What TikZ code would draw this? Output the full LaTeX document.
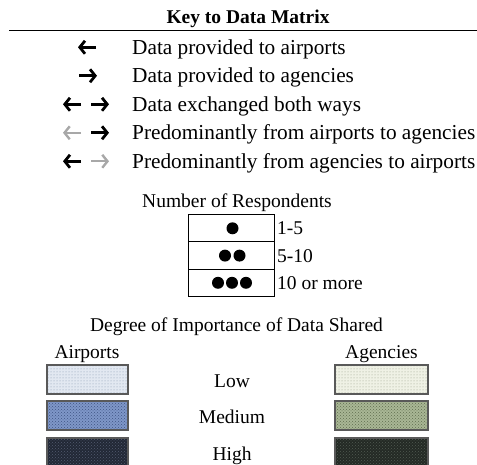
\documentclass[tikz,border=0pt]{standalone}
\usepackage{fontspec}
\setmainfont{Liberation Serif}
\usetikzlibrary{arrows.meta,patterns}
\definecolor{agrey}{HTML}{A8A8A8}
\definecolor{alow}{HTML}{E2E8F1}
\definecolor{alowd}{HTML}{8797B0}
\definecolor{amed}{HTML}{7F97C8}
\definecolor{amedd}{HTML}{3F5484}
\definecolor{ahigh}{HTML}{222836}
\definecolor{ahighd}{HTML}{525C70}
\definecolor{glow}{HTML}{EFF1E5}
\definecolor{glowd}{HTML}{979D87}
\definecolor{gmed}{HTML}{A9B795}
\definecolor{gmedd}{HTML}{5F6D4F}
\definecolor{ghigh}{HTML}{242A25}
\definecolor{ghighd}{HTML}{515A52}
\tikzset{
  big/.style={font=\fontsize{21.3}{24}\selectfont, inner sep=0pt, anchor=base west},
  med/.style={font=\fontsize{19.5}{22}\selectfont, inner sep=0pt, anchor=base},
  medw/.style={font=\fontsize{19.5}{22}\selectfont, inner sep=0pt, anchor=base west},
  arr/.style={line width=2.8pt, -{Straight Barb[length=5.2pt,width=13pt]}},
  garr/.style={arr, draw=agrey, line width=2.4pt},
  dot/.style={circle, fill=black, minimum size=12pt, inner sep=0pt},
  swatch/.style={draw=black!65, line width=1.2pt},
}
\begin{document}
\begin{tikzpicture}[x=1pt,y=-1pt]
\useasboundingbox (0,0) rectangle (477,465);
% title
\node[font=\fontsize{19.5}{22}\selectfont\bfseries, inner sep=0pt, anchor=base] (title) at (248,24) {Key to Data Matrix};
\coordinate (l1) at (9,30.5);
\coordinate (l2) at (477,30.5);
\draw[line width=1.7pt] (l1) -- (l2);
% key rows
\node[big] (t1) at (132,54.3) {Data provided to airports};
\node[big] (t2) at (132,82.8) {Data provided to agencies};
\node[big] (t3) at (132,111.3) {Data exchanged both ways};
\node[big] (t4) at (132,139.8) {Predominantly from airports to agencies};
\node[big] (t5) at (132,168.3) {Predominantly from agencies to airports};
% arrows
\coordinate (a1s) at (96,47.3);   \coordinate (a1e) at (78,47.3);
\coordinate (a2s) at (79,75.8);   \coordinate (a2e) at (97,75.8);
\coordinate (a3ls) at (81,104.3); \coordinate (a3le) at (63,104.3);
\coordinate (a3rs) at (91,104.3); \coordinate (a3re) at (109,104.3);
\coordinate (a4ls) at (81,132.8); \coordinate (a4le) at (63,132.8);
\coordinate (a4rs) at (91,132.8); \coordinate (a4re) at (109,132.8);
\coordinate (a5ls) at (81,161.3); \coordinate (a5le) at (63,161.3);
\coordinate (a5rs) at (91,161.3); \coordinate (a5re) at (109,161.3);
\draw[arr] (a1s) -- (a1e);
\draw[arr] (a2s) -- (a2e);
\draw[arr] (a3ls) -- (a3le);
\draw[arr] (a3rs) -- (a3re);
\draw[garr] (a4ls) -- (a4le);
\draw[arr] (a4rs) -- (a4re);
\draw[arr] (a5ls) -- (a5le);
\draw[garr] (a5rs) -- (a5re);
% respondents
\node[med] (resp) at (237,207.5) {Number of Respondents};
\draw[line width=1pt] (188,214.5) rectangle (274,296.5);
\draw[line width=1pt] (188,242) -- (274,242);
\draw[line width=1pt] (188,269.2) -- (274,269.2);
\node[dot] (d1) at (232.5,228.3) {};
\node[dot] (d2a) at (225,255.6) {};
\node[dot] (d2b) at (239.5,255.6) {};
\node[dot] (d3a) at (218,282.8) {};
\node[dot] (d3b) at (232,282.8) {};
\node[dot] (d3c) at (246,282.8) {};
\node[medw] (r1) at (277,235) {1-5};
\node[medw] (r2) at (277,262.3) {5-10};
\node[medw] (r3) at (277,289.5) {10 or more};
% degree of importance
\node[med] (deg) at (236.5,331.5) {Degree of Importance of Data Shared};
\node[med] (air) at (87,358.3) {Airports};
\node[med] (agc) at (381.5,358.3) {Agencies};
\node[med] (low) at (232,387.3) {Low};
\node[med] (mid) at (232,423.3) {Medium};
\node[med] (hig) at (232,460) {High};
% swatches
\fill[alow] (47,365) rectangle (128,394);
\fill[pattern=dots, pattern color=alowd] (47,365) rectangle (128,394);
\draw[swatch] (47,365) rectangle (128,394);
\fill[amed] (47,401) rectangle (128,430);
\fill[pattern=crosshatch dots, pattern color=amedd] (47,401) rectangle (128,430);
\draw[swatch] (47,401) rectangle (128,430);
\fill[ahigh] (47,438) rectangle (128,470);
\fill[pattern=crosshatch dots, pattern color=ahighd] (47,438) rectangle (128,470);
\draw[swatch] (47,438) rectangle (128,470);
\fill[glow] (335,365) rectangle (428,394);
\fill[pattern=dots, pattern color=glowd] (335,365) rectangle (428,394);
\draw[swatch] (335,365) rectangle (428,394);
\fill[gmed] (335,401) rectangle (428,430);
\fill[pattern=crosshatch dots, pattern color=gmedd] (335,401) rectangle (428,430);
\draw[swatch] (335,401) rectangle (428,430);
\fill[ghigh] (335,438) rectangle (428,470);
\fill[pattern=crosshatch dots, pattern color=ghighd] (335,438) rectangle (428,470);
\draw[swatch] (335,438) rectangle (428,470);
\end{tikzpicture}
\end{document}
